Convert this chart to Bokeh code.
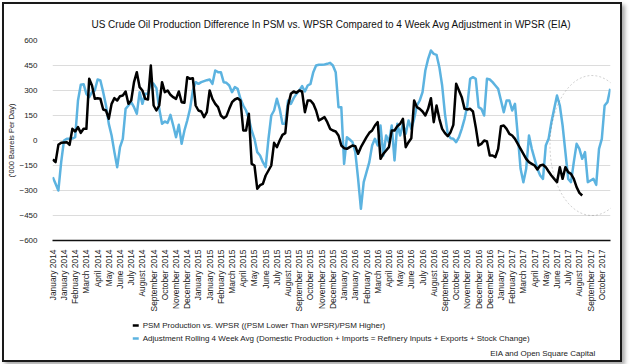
import numpy as np
from math import pi
from bokeh.plotting import figure
from bokeh.layouts import column
from bokeh.models import FixedTicker, Label, PolyAnnotation, Range1d
from bokeh.embed import file_html
from bokeh.resources import INLINE

# ---------------- data ----------------
# x-axis labels: one every 4 weeks starting with the first week of January 2014
tick_labels = [
    "January 2014", "January 2014", "February 2014", "March 2014", "April 2014", "May 2014",
    "June 2014", "July 2014", "August 2014", "September 2014", "October 2014", "November 2014",
    "December 2014", "January 2015", "January 2015", "February 2015", "March 2015", "April 2015",
    "May 2015", "June 2015", "July 2015", "August 2015", "September 2015", "October 2015",
    "November 2015", "December 2015", "January 2016", "January 2016", "February 2016", "March 2016",
    "April 2016", "May 2016", "June 2016", "July 2016", "August 2016", "September 2016",
    "October 2016", "November 2016", "December 2016", "December 2016", "January 2017",
    "February 2017", "March 2017", "April 2017", "May 2017", "June 2017", "July 2017",
    "August 2017", "September 2017", "October 2017",
]
weeks_per_label = 4

y_ticks = [-600, -450, -300, -150, 0, 150, 300, 450, 600]

# weekly values, '000 barrels per day
psm_vs_wpsr = [
    -114, -130, -26, -14, -12, -10, -26, 70, 54, 80,
    46, 70, 70, 370, 330, 250, 254, 250, 186, 180,
    130, 220, 254, 240, 266, 270, 294, 220, 240, 350,
    410, 320, 300, 250, 246, 450, 210, 180, 210, 350,
    290, 300, 274, 260, 250, 294, 230, 226, 380, 370,
    374, 210, 180, 174, 140, 170, 300, 250, 220, 200,
    150, 134, 146, 190, 230, 246, 254, 240, 60, 60,
    160, -140, -150, -290, -268, -260, -210, -180, -150, -14,
    -40, 0, 34, 44, 210, 280, 294, 286, 300, 294,
    170, 240, 240, 220, 180, 120, 130, 140, 110, 70,
    60, 54, 30, -30, -46, -50, -40, -30, -34, -80,
    -40, -10, 20, 46, 60, 90, 110, -110, -80, -60,
    -40, 60, 60, 86, 100, 130, -40, -10, 14, 240,
    200, 190, 174, 150, 190, 254, 110, 210, 130, 70,
    44, 26, 50, 94, 340, 300, 260, 190, 186, 190,
    174, 80, -30, -20, 0, -6, -90, -90, -100, -50,
    86, 90, 70, 40, 30, 10, -20, -50, -80, -110,
    -130, -140, -150, -174, -150, -146, -160, -186, -210, -230,
    -250, -160, -230, -160, -190, -200, -230, -280, -314, -330,
]

adjustment_4wk = [
    -220, -260, -300, -130, 0, 10, 10, 12, 20, 240,
    334, 338, 280, 260, 290, 300, 366, 360, 290, 210,
    100, 30, -70, -160, -40, 10, 190, 210, 230, 200,
    160, 290, 220, 280, 280, 350, 340, 314, 190, 100,
    114, 106, 154, 90, 20, 94, -20, 60, 120, 190,
    300, 350, 340, 350, 356, 362, 366, 340, 420, 410,
    410, 350, 346, 330, 290, 320, 310, 250, 210, 180,
    130, 60, 10, -70, -90, -130, -160, 10, 150, 180,
    250, 190, 100, 100, 240, 220, 254, 280, 300, 326,
    294, 330, 340, 410, 450, 454, 454, 456, 460, 466,
    450, 410, 200, 200, -140, 20, 6, -10, -70, -230,
    -410, -250, -190, -130, -30, 10, -30, 90, -90, 30,
    -10, 90, -120, 100, 30, 100, 40, 120, 70, 130,
    210, 240, 290, 420, 490, 540, 520, 514, 440, 330,
    160, 40, 14, 10, -10, 20, 70, 130, 210, 370,
    380, 370, 200, 190, 150, 370, 366, 350, 330, 310,
    240, 170, 240, 240, 180, 220, 30, -170, -250, -170,
    30, -50, -110, -170, -210, -230, -30, 10, 110, 190,
    270, 210, 90, -70, -230, -250, -130, -20, -50, -110,
    -70, -250, -240, -230, -266, -50, 10, 210, 230, 310,
]

# hand-drawn highlight ellipse (weeks / values it spans)
highlight = dict(week_from=177.5, week_to=207.5, low=-450, high=390)

title_text = ("US Crude Oil Production Difference In PSM vs. WPSR Compared to "
              "4 Week Avg Adjustment in WPSR (EIA)")
series_names = ["PSM Production vs. WPSR ((PSM Lower Than WPSR)/PSM Higher)",
                "Adjustment Rolling 4 Week Avg (Domestic Production + Imports = "
                "Refinery Inputs + Exports + Stock Change)"]
source_text = "EIA and Open Square Capital"

BLUE = "#5cb3e0"
BLACK = "#000000"
FONT = "Liberation Sans"

# ---------------- main chart ----------------
W = 616
H_MAIN, H_FOOT = 310, 46
LEFT, TOP, FRAME_W, FRAME_H = 43, 36, 563, 200

n_weeks = len(adjustment_4wk)
p = figure(width=W, height=H_MAIN, output_backend="svg", toolbar_location=None,
           x_range=Range1d(-0.1, n_weeks - 1 + 0.1), y_range=Range1d(y_ticks[0], y_ticks[-1]),
           min_border_left=LEFT, min_border_top=TOP,
           min_border_right=W - LEFT - FRAME_W, min_border_bottom=H_MAIN - TOP - FRAME_H)
p.outline_line_color = None
p.background_fill_color = "white"
p.border_fill_color = "white"

p.title.text = title_text
p.title.align = "center"
p.title.text_font = FONT
p.title.text_font_size = "10px"
p.title.text_font_style = "normal"
p.title.text_color = "#111"
p.title.standoff = 21

tick_pos = [i * weeks_per_label for i in range(len(tick_labels))]
p.xaxis.ticker = FixedTicker(ticks=tick_pos)
p.xaxis.major_label_overrides = {t: lab for t, lab in zip(tick_pos, tick_labels)}
p.xaxis.major_label_orientation = pi / 2
p.xaxis.major_label_text_font = FONT
p.xaxis.major_label_text_font_size = "8.4px"
p.xaxis.major_label_text_color = "#222"
p.xaxis.major_label_standoff = 3
p.xaxis.axis_line_color = "#111"
p.xaxis.axis_line_width = 1.5
p.xaxis.major_tick_line_color = None
p.xaxis.minor_tick_line_color = None

p.yaxis.ticker = FixedTicker(ticks=y_ticks)
p.yaxis.major_label_text_font = FONT
p.yaxis.major_label_text_font_size = "8px"
p.yaxis.major_label_text_color = "#222"
p.yaxis.major_label_standoff = 9
p.yaxis.axis_line_color = None
p.yaxis.major_tick_line_color = None
p.yaxis.minor_tick_line_color = None
p.yaxis.axis_label = "('000 Barrels Per Day)"
p.yaxis.axis_label_text_font = FONT
p.yaxis.axis_label_text_font_size = "7.5px"
p.yaxis.axis_label_text_font_style = "normal"
p.yaxis.axis_label_text_color = "#222"
p.yaxis.axis_label_standoff = 0

p.xgrid.grid_line_color = None
p.ygrid.ticker = FixedTicker(ticks=y_ticks)
p.ygrid.grid_line_color = "#dcdcdc"
p.ygrid.grid_line_width = 1

p.line(list(range(len(adjustment_4wk))), adjustment_4wk,
       line_color=BLUE, line_width=2.5, line_join="round")
p.line(list(range(len(psm_vs_wpsr))), psm_vs_wpsr,
       line_color=BLACK, line_width=2.5, line_join="round")

t = np.linspace(0, 2 * np.pi, 120)
cx = (highlight["week_from"] + highlight["week_to"]) / 2
rx = (highlight["week_to"] - highlight["week_from"]) / 2
cy = (highlight["high"] + highlight["low"]) / 2
ry = (highlight["high"] - highlight["low"]) / 2
p.add_layout(PolyAnnotation(xs=list(cx + rx * np.cos(t)), ys=list(cy + ry * np.sin(t)),
                            xs_units="data", ys_units="data",
                            fill_alpha=0, line_color="#666", line_width=1, line_dash="2 2"))

# ---------------- footer: legend + source ----------------
# the column aligns this frame with the main frame, so map its x range to the same pixels
f = figure(width=W, height=H_FOOT, output_backend="svg", toolbar_location=None,
           x_range=Range1d(LEFT, LEFT + FRAME_W), y_range=Range1d(H_FOOT, 0),
           x_axis_location=None, y_axis_location=None, min_border=0,
           min_border_left=LEFT, min_border_right=W - LEFT - FRAME_W)
f.outline_line_color = None
f.grid.visible = False
f.background_fill_color = "white"
f.border_fill_color = "white"

key_x, key_len, text_x = 124, 6, 134
row_y = [11, 24]
f.segment(x0=[key_x] * 2, x1=[key_x + key_len] * 2, y0=row_y, y1=row_y,
          line_color=[BLACK, BLUE], line_width=2.5)
for name, ry_ in zip(series_names, row_y):
    f.add_layout(Label(x=text_x, y=ry_, text=name, text_align="left", text_baseline="middle",
                       text_font=FONT, text_font_size="8px", text_color="#222"))

f.add_layout(Label(x=591, y=39, text=source_text, text_align="right", text_baseline="middle",
                   text_font=FONT, text_font_size="8px", text_color="#222"))

page = column(p, f, spacing=0,
              styles={"margin-left": "4px", "margin-top": "4px",
                      "box-shadow": "0 0 0 2px #1a1a1a, 3px 3px 4px 2px #aaa"})

open("out.html", "w").write(file_html(page, INLINE))
